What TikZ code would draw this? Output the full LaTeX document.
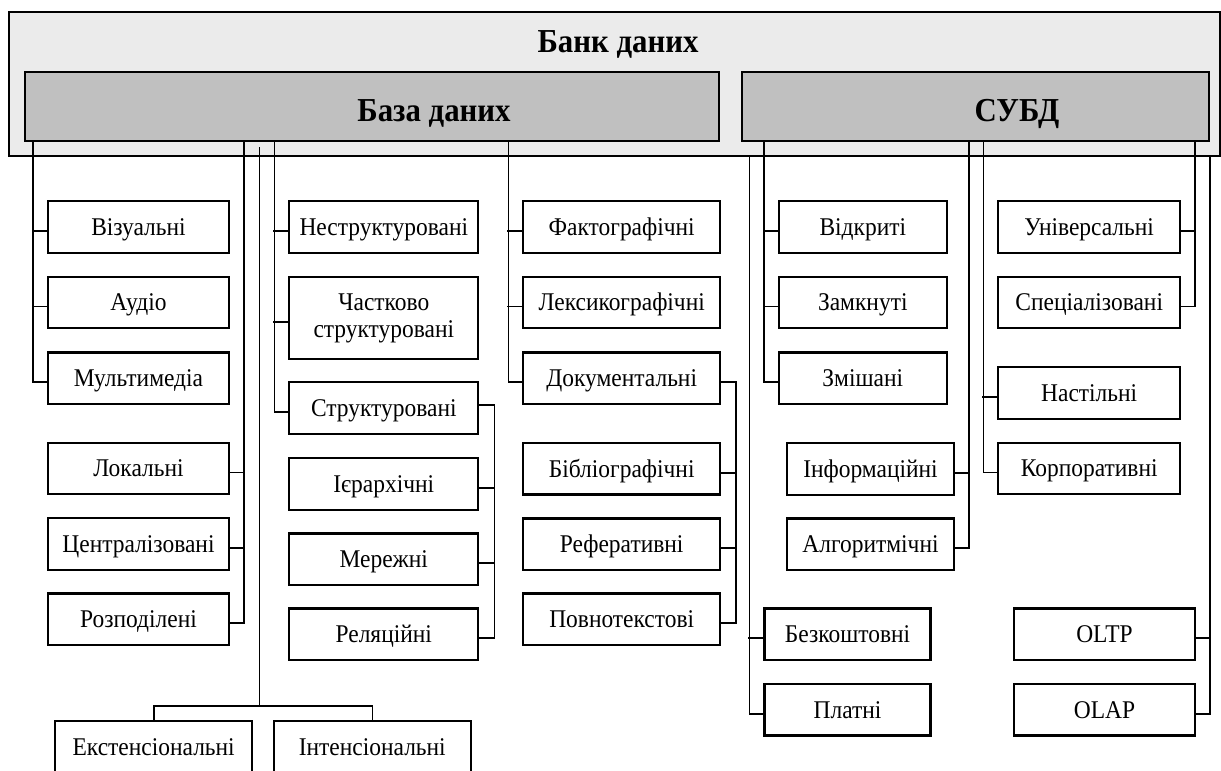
\documentclass[tikz,border=0pt]{standalone}
\usepackage{fontspec}
\setmainfont{Liberation Serif}[FakeStretch=0.92]
\definecolor{outerfill}{HTML}{EBEBEB}
\definecolor{innerfill}{HTML}{C0C0C0}
\begin{document}
\begin{tikzpicture}[x=1pt,y=-1pt,
  bx/.style={draw,line width=2.1pt,fill=white,inner sep=0pt,minimum height=51.5pt,
    text height=16.8pt,text depth=0pt,font=\fontsize{25.5}{27}\selectfont},
  bigbox/.style={draw,line width=2.1pt,inner sep=0pt},
  title/.style={anchor=base,font=\fontsize{33.5}{36}\selectfont\bfseries},
  ln/.style={line width=1.6pt},
  colA/.style={bx,minimum width=181pt},
  colB/.style={bx,minimum width=189pt},
  colC/.style={bx,minimum width=196.6pt},
  colD/.style={bx,minimum width=167.7pt},
  colE/.style={bx,minimum width=181.7pt},
]
\useasboundingbox (0,0) rectangle (1221,771);
\clip (0,0) rectangle (1221,771);

% containers
\node[bigbox,fill=outerfill,minimum width=1211pt,minimum height=143.7pt] (bank) at (614.5,84.15) {};
\node[title] (bankt) at (618,52) {Банк даних};
\node[bigbox,fill=innerfill,minimum width=693.7pt,minimum height=68.7pt] (db) at (372.15,106.65) {};
\node[title] (dbt) at (434,121.5) {База даних};
\node[bigbox,fill=innerfill,minimum width=467.6pt,minimum height=68.7pt] (dbms) at (975.5,106.65) {};
\node[title] (dbmst) at (1017,121.5) {СУБД};

% column A
\node[colA] (vis) at (138.5,227) {Візуальні};
\node[colA] (aud) at (138.5,302.5) {Аудіо};
\node[colA] (mm)  at (138.5,378.2) {Мультимедіа};
\node[colA] (loc) at (138.5,468.5) {Локальні};
\node[colA] (cen) at (138.5,543.8) {Централізовані};
\node[colA] (roz) at (138.5,619.2) {Розподілені};

% column B
\node[colB] (nestr) at (383.8,227) {Неструктуровані};
\node[draw,line width=2.1pt,fill=white,inner sep=0pt,minimum width=189pt,minimum height=82.3pt,
  align=center,font=\fontsize{25.5}{27}\selectfont] (chast) at (383.8,317.9) {Частково\\структуровані};
\node[colB] (str) at (383.8,408) {Структуровані};
\node[colB] (ier) at (383.8,484) {Ієрархічні};
\node[colB] (mer) at (383.8,559.2) {Мережні};
\node[colB] (rel) at (383.8,634.2) {Реляційні};

% column C
\node[colC] (fakt) at (621.7,227) {Фактографічні};
\node[colC] (leks) at (621.7,302.5) {Лексикографічні};
\node[colC] (dok)  at (621.7,378.2) {Документальні};
\node[colC] (bibl) at (621.7,468.7) {Бібліографічні};
\node[colC] (ref)  at (621.7,544.2) {Реферативні};
\node[colC] (povn) at (621.7,619.2) {Повнотекстові};

% column D
\node[colD] (vidk)  at (862.8,227) {Відкриті};
\node[colD] (zamk)  at (862.8,302.5) {Замкнуті};
\node[colD] (zmish) at (862.8,378.2) {Змішані};
\node[bx,minimum width=167pt] (inf) at (870.5,469) {Інформаційні};
\node[bx,minimum width=167pt] (alg) at (870.5,544.2) {Алгоритмічні};
\node[bx,minimum width=166pt] (bezk) at (847.5,634.2) {Безкоштовні};
\node[bx,minimum width=166pt] (plat) at (847.5,709.7) {Платні};

% column E
\node[colE] (univ) at (1089.2,227) {Універсальні};
\node[colE] (spec) at (1089.2,302.5) {Спеціалізовані};
\node[colE] (nast) at (1089.2,393) {Настільні};
\node[colE] (korp) at (1089.2,468.5) {Корпоративні};
\node[bx,minimum width=181pt] (oltp) at (1104.5,634.2) {OLTP};
\node[bx,minimum width=181pt] (olap) at (1104.5,709.7) {OLAP};

% bottom
\node[bx,minimum width=197.3pt,minimum height=70pt,text depth=17.4pt] (ext) at (153.7,755.7) {Екстенсіональні};
\node[bx,minimum width=196.7pt,minimum height=70pt,text depth=17.4pt] (int) at (372.3,755.7) {Інтенсіональні};

% bus coordinates
\coordinate (v1) at (33,141);
\coordinate (v2) at (244,141);
\coordinate (v3) at (259.5,147);
\coordinate (bj) at (259.5,705.7);
\coordinate (v4) at (274.3,141);
\coordinate (v5) at (508.3,141);
\coordinate (v6) at (749.5,156);
\coordinate (v7) at (764,141);
\coordinate (v8) at (969,141);
\coordinate (v9) at (983.3,141);
\coordinate (v10) at (1195,141);
\coordinate (v11) at (1210,156);

% connectors
\draw[ln] (v1) |- ([yshift=-4pt]mm.west);
\foreach \n in {vis,aud} \draw[ln] ([yshift=-4pt]\n.west) -- ++(-15,0);

\draw[ln] (v2) |- ([yshift=-4pt]roz.east);
\foreach \n in {loc,cen} \draw[ln] ([yshift=-4pt]\n.east) -- ++(15,0);

\draw[ln] (v3) -- (bj);
\draw[ln] (ext.north) |- (bj) -| (int.north);

\draw[ln] (v4) |- ([yshift=-4pt]str.west);
\foreach \n in {nestr,chast} \draw[ln] ([yshift=-4pt]\n.west) -- ++(-15,0);

\draw[ln] ([yshift=3pt]str.east) -- ++(15,0) |- ([yshift=-4pt]rel.east);
\foreach \n in {ier,mer} \draw[ln] ([yshift=-4pt]\n.east) -- ++(15,0);

\draw[ln] (v5) |- ([yshift=-4pt]dok.west);
\foreach \n in {fakt,leks} \draw[ln] ([yshift=-4pt]\n.west) -- ++(-15,0);

\draw[ln] ([yshift=-4pt]dok.east) -- ++(15,0) |- ([yshift=-4pt]povn.east);
\foreach \n in {bibl,ref} \draw[ln] ([yshift=-4pt]\n.east) -- ++(15,0);

\draw[ln] (v6) |- ([yshift=-4pt]plat.west);
\draw[ln] ([yshift=-4pt]bezk.west) -- ++(-15,0);

\draw[ln] (v7) |- ([yshift=-4pt]zmish.west);
\foreach \n in {vidk,zamk} \draw[ln] ([yshift=-4pt]\n.west) -- ++(-15,0);

\draw[ln] (v8) |- ([yshift=-4pt]alg.east);
\draw[ln] ([yshift=-4pt]inf.east) -- ++(14,0);

\draw[ln] (v9) |- ([yshift=-4pt]korp.west);
\draw[ln] ([yshift=-4pt]nast.west) -- ++(-15,0);

\draw[ln] (v10) |- ([yshift=-4pt]spec.east);
\draw[ln] ([yshift=-4pt]univ.east) -- ++(15,0);

\draw[ln] (v11) |- ([yshift=-4pt]olap.east);
\draw[ln] ([yshift=-4pt]oltp.east) -- ++(15,0);
\end{tikzpicture}
\end{document}
